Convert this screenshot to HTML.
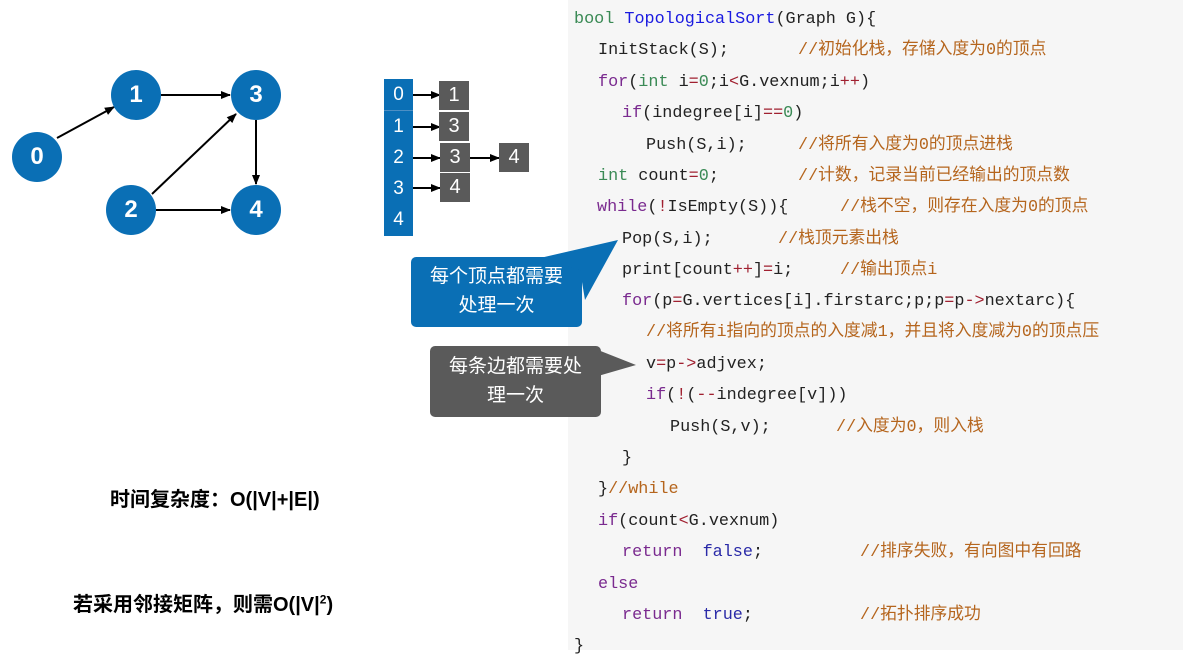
<!DOCTYPE html>
<html><head><meta charset="utf-8"><style>
body{margin:0;width:1183px;height:650px;overflow:hidden;background:#fff;position:relative;font-family:"Liberation Sans","Noto Sans CJK SC",sans-serif}
#code{position:absolute;left:568px;top:0;width:615px;height:650px;background:#f6f6f6}
.l{position:absolute;font-family:"Liberation Mono","Noto Sans CJK SC",monospace;font-size:16.8px;line-height:20px;color:#222;white-space:pre}
.c{color:#b5651d}
.k{color:#7a2a8f}.t{color:#3a8a55}.f{color:#1a1ae0}.n{color:#3a8a55}.o{color:#a02030}.b{color:#2a2aa8}
.node{position:absolute;width:50px;height:50px;border-radius:50%;background:#0a6fb5;color:#fff;font-size:24px;font-weight:bold;text-align:center;line-height:50px}
.cell{position:absolute;left:384px;width:29px;height:31px;background:#0a6fb5;color:#fff;font-size:19px;text-align:center;line-height:31px;border-bottom:1px solid #4d8fc4}
.g{position:absolute;width:30px;height:29px;background:#5a5a5a;color:#fff;font-size:20px;text-align:center;line-height:29px}
.big{position:absolute;font-size:20px;font-weight:bold;color:#000;white-space:pre}
</style></head><body>
<svg width="560" height="260" style="position:absolute;left:0;top:0">
<defs><marker id="a" markerWidth="10" markerHeight="10" refX="9" refY="5" orient="auto" markerUnits="userSpaceOnUse"><path d="M0,1 L10,5 L0,9z" fill="#000"/></marker></defs>
<g stroke="#000" stroke-width="2" marker-end="url(#a)">
<line x1="57" y1="138" x2="114" y2="107"/>
<line x1="161" y1="95" x2="230" y2="95"/>
<line x1="152" y1="194" x2="236" y2="114"/>
<line x1="156" y1="210" x2="230" y2="210"/>
<line x1="256" y1="120" x2="256" y2="184"/>
<line x1="411" y1="95" x2="440" y2="95"/>
<line x1="411" y1="127" x2="440" y2="127"/>
<line x1="411" y1="158" x2="440" y2="158"/>
<line x1="470" y1="158" x2="499" y2="158"/>
<line x1="411" y1="188" x2="440" y2="188"/>
</g></svg>
<div class="node" style="left:12px;top:132px">0</div>
<div class="node" style="left:111px;top:70px">1</div>
<div class="node" style="left:231px;top:70px">3</div>
<div class="node" style="left:106px;top:185px">2</div>
<div class="node" style="left:231px;top:185px">4</div>
<div class="cell" style="top:79px">0</div>
<div class="cell" style="top:111px">1</div>
<div class="cell" style="top:142px">2</div>
<div class="cell" style="top:173px">3</div>
<div class="cell" style="top:204px;border:0;height:32px">4</div>
<div class="g" style="left:439px;top:81px">1</div>
<div class="g" style="left:439px;top:112px">3</div>
<div class="g" style="left:440px;top:143px">3</div>
<div class="g" style="left:499px;top:143px">4</div>
<div class="g" style="left:440px;top:173px">4</div>
<div id="code"></div>
<svg width="1183" height="650" style="position:absolute;left:0;top:0">
<rect x="411" y="257" width="171" height="70" rx="5" fill="#0a6fb5"/>
<path d="M540,258 L618,240 L585,300 L580,270z" fill="#0a6fb5"/>
<rect x="430" y="346" width="171" height="71" rx="5" fill="#5a5a5a"/>
<path d="M598,350 L636,365 L598,376z" fill="#5a5a5a"/>
</svg>
<div style="position:absolute;left:411px;top:262px;width:171px;text-align:center;color:#fff;font-size:19px;line-height:29px">每个顶点都需要<br>处理一次</div>
<div style="position:absolute;left:430px;top:352px;width:171px;text-align:center;color:#fff;font-size:19px;line-height:29px">每条边都需要处<br>理一次</div>
<div class="big" style="left:110px;top:483px">时间复杂度：O(|V|+|E|)</div>
<div class="big" style="left:73px;top:588px">若采用邻接矩阵，则需O(|V|<sup style="font-size:12px">2</sup>)</div>

<div class="l" style="left:574px;top:10px"><span class="t">bool</span> <span class="f">TopologicalSort</span>(Graph G){</div>
<div class="l" style="left:598px;top:41px">InitStack(S);</div><div class="l c" style="left:798px;top:41px">//初始化栈，存储入度为0的顶点</div>
<div class="l" style="left:598px;top:73px"><span class="k">for</span>(<span class="t">int</span> i<span class="o">=</span><span class="n">0</span>;i<span class="o">&lt;</span>G.vexnum;i<span class="o">++</span>)</div>
<div class="l" style="left:622px;top:104px"><span class="k">if</span>(indegree[i]<span class="o">==</span><span class="n">0</span>)</div>
<div class="l" style="left:646px;top:136px">Push(S,i);</div><div class="l c" style="left:798px;top:136px">//将所有入度为0的顶点进栈</div>
<div class="l" style="left:598px;top:167px"><span class="t">int</span> count<span class="o">=</span><span class="n">0</span>;</div><div class="l c" style="left:798px;top:167px">//计数，记录当前已经输出的顶点数</div>
<div class="l" style="left:597px;top:198px"><span class="k">while</span>(<span class="o">!</span>IsEmpty(S)){</div><div class="l c" style="left:840px;top:198px">//栈不空，则存在入度为0的顶点</div>
<div class="l" style="left:622px;top:230px">Pop(S,i);</div><div class="l c" style="left:778px;top:230px">//栈顶元素出栈</div>
<div class="l" style="left:622px;top:261px">print[count<span class="o">++</span>]<span class="o">=</span>i;</div><div class="l c" style="left:840px;top:261px">//输出顶点i</div>
<div class="l" style="left:622px;top:292px"><span class="k">for</span>(p<span class="o">=</span>G.vertices[i].firstarc;p;p<span class="o">=</span>p<span class="o">-&gt;</span>nextarc){</div>
<div class="l c" style="left:646px;top:323px">//将所有i指向的顶点的入度减1，并且将入度减为0的顶点压</div>
<div class="l" style="left:646px;top:355px">v<span class="o">=</span>p<span class="o">-&gt;</span>adjvex;</div>
<div class="l" style="left:646px;top:386px"><span class="k">if</span>(<span class="o">!</span>(<span class="o">--</span>indegree[v]))</div>
<div class="l" style="left:670px;top:418px">Push(S,v);</div><div class="l c" style="left:836px;top:418px">//入度为0，则入栈</div>
<div class="l" style="left:622px;top:449px">}</div>
<div class="l" style="left:598px;top:480px">}<span class="c">//while</span></div>
<div class="l" style="left:598px;top:512px"><span class="k">if</span>(count<span class="o">&lt;</span>G.vexnum)</div>
<div class="l" style="left:622px;top:543px"><span class="k">return</span>  <span class="b">false</span>;</div><div class="l c" style="left:860px;top:543px">//排序失败，有向图中有回路</div>
<div class="l" style="left:598px;top:575px"><span class="k">else</span></div>
<div class="l" style="left:622px;top:606px"><span class="k">return</span>  <span class="b">true</span>;</div><div class="l c" style="left:860px;top:606px">//拓扑排序成功</div>
<div class="l" style="left:574px;top:637px">}</div>
</body></html>
